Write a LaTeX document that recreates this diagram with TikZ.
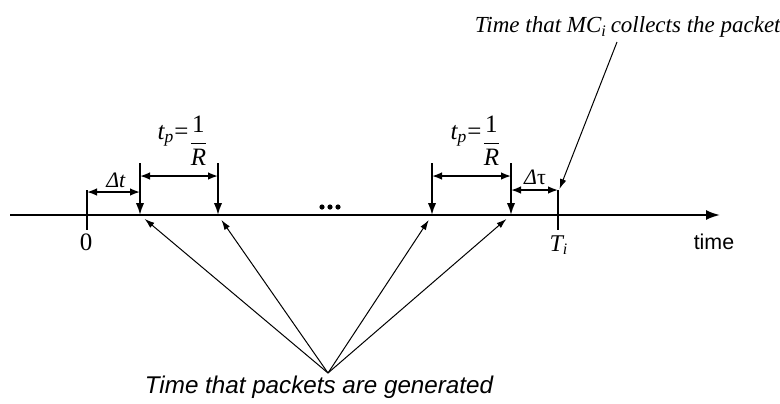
\documentclass[tikz,border=0pt]{standalone}
\usepackage{fontspec}
\usepackage{amsmath}
\setmainfont{Liberation Serif}
\newfontfamily\arialfont{Liberation Sans}
\usetikzlibrary{arrows.meta,calc}
% packet period t_p = 1/R, with the left-hand side set level with the numerator
\newcommand{\periodlabel}{$\raisebox{5pt}{$\textit{t}_{\textit{p}}\textrm{=}$}\dfrac{\textrm{1}}{\textit{R}}$}
\begin{document}
\begin{tikzpicture}[x=0.5pt,y=-0.5pt,
  axisline/.style={line width=1pt,-{Latex[length=7pt,width=5pt]}},
  tickline/.style={line width=0.9pt},
  genarrow/.style={line width=0.9pt,-{Latex[length=6pt,width=4.2pt]}},
  dimarrow/.style={line width=0.8pt,{Latex[length=5pt,width=3.8pt]}-{Latex[length=5pt,width=3.8pt]}},
  pointer/.style={line width=0.5pt,-{Latex[length=5pt,width=3.2pt]}},
  fanarrow/.style={line width=0.5pt,-{Latex[length=5pt,width=3.2pt]},shorten >=3pt},
  serifl/.style={font=\fontsize{11}{13}\selectfont,inner sep=0pt},
  sansl/.style={font=\arialfont\fontsize{10.7}{13}\selectfont,inner sep=0pt}]
\useasboundingbox (0,0) rectangle (780,403);

% time axis
\coordinate (ax0) at (10,215);
\coordinate (ax1) at (720,215);
\draw[axisline] (ax0) -- (ax1);

% instants on the axis
\coordinate (t0) at (87,215);
\coordinate (g1) at (140,215);
\coordinate (g2) at (218,215);
\coordinate (g3) at (432,215);
\coordinate (g4) at (511,215);
\coordinate (ti) at (558,215);

% start and collection ticks
\draw[tickline] ($(t0)+(0,-25)$) -- ($(t0)+(0,15)$);
\coordinate (tiTop) at ($(ti)+(0,-25)$);
\draw[tickline] (tiTop) -- ($(ti)+(0,15)$);

% packet generation arrows
\foreach \g in {g1,g2,g3,g4}
  \draw[genarrow] ($(\g)+(0,-52)$) -- (\g);

% intervals
\draw[dimarrow] ($(t0)+(0,-23)$) -- ($(g1)+(0,-23)$);
\draw[dimarrow] ($(g1)+(0,-39)$) -- ($(g2)+(0,-39)$);
\draw[dimarrow] ($(g3)+(0,-39)$) -- ($(g4)+(0,-39)$);
\draw[dimarrow] ($(g4)+(0,-25)$) -- (tiTop);

% interval labels
\node[serifl] (dt) at (116,180) {\textit{Δt}};
\node[serifl] (dtau) at (535,177) {\textit{Δ}τ};
\node[serifl,font=\fontsize{12.5}{15}\selectfont] (tp1) at (183,141) {\periodlabel};
\node[serifl,font=\fontsize{12.5}{15}\selectfont] (tp2) at (476,141) {\periodlabel};

% ellipsis between the packets
\fill (322,207) circle (1.3pt);
\fill (330,207) circle (1.3pt);
\fill (338,207) circle (1.3pt);

% axis labels
\node[serifl,font=\fontsize{12.5}{15}\selectfont] (zero) at (86,242) {0};
\node[serifl,font=\fontsize{12}{14}\selectfont] (tilab) at (559,245) {$\textit{T}_{\textit{i}}$};
\node[sansl] (timelab) at (714,242) {time};

% collection instant
\node[serifl,font=\fontsize{11.5}{14}\selectfont] (mcl) at (628,27)
  {\textit{Time that MC$_{\textit{i}}$\,collects the packet}};
\coordinate (mcs) at (617,42);
\draw[pointer] (mcs) -- ($(tiTop)+(1.5,-1)$);

% generation instants
\node[sansl,font=\arialfont\fontsize{12.1}{14}\selectfont] (genlab) at (319,387)
  {\itshape Time that packets are generated};
\coordinate (apex) at (328,373);
\foreach \g in {g1,g2,g3,g4}
  \draw[fanarrow] (apex) -- (\g);
\end{tikzpicture}
\end{document}
